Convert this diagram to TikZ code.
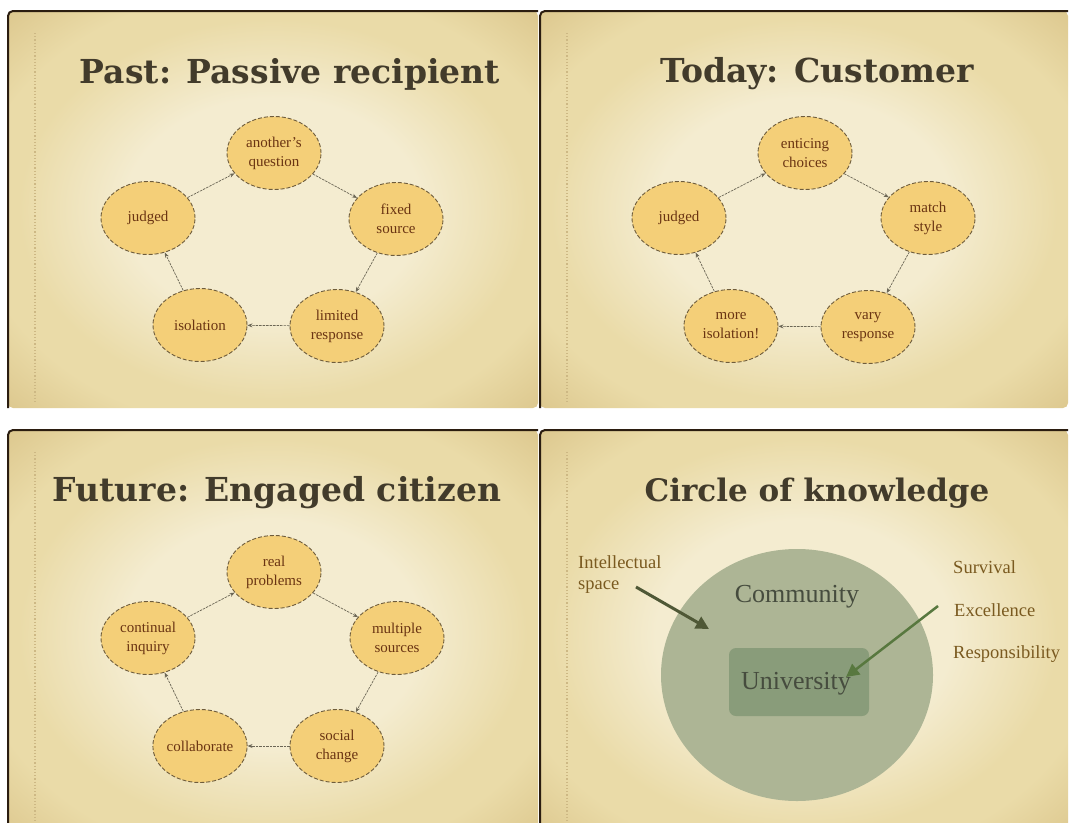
\documentclass[tikz,border=0pt]{standalone}
\usepackage{fontspec}
\setmainfont{Liberation Serif}
\newfontfamily\titlefont{DejaVu Serif}
\usetikzlibrary{arrows.meta,shapes.geometric}

% palette
\definecolor{paper}{HTML}{F4ECD0}
\definecolor{paperedge}{HTML}{EADBA8}
\definecolor{papercorner}{HTML}{DAC489}
\definecolor{edgedark}{HTML}{2B1D10}
\definecolor{margindots}{HTML}{CDB884}
\definecolor{titleink}{HTML}{423B2B}
\definecolor{stagefill}{HTML}{F4CF78}
\definecolor{ringink}{HTML}{6E5C3C}
\definecolor{stageink}{HTML}{6A3412}
\definecolor{flowink}{HTML}{6B6655}
\definecolor{community}{HTML}{ADB595}
\definecolor{campus}{HTML}{899C7A}
\definecolor{greyink}{HTML}{464C3E}
\definecolor{labelink}{HTML}{7A5A20}
\definecolor{leftarrow}{HTML}{4F5836}
\definecolor{rightarrow}{HTML}{58783F}

% parchment vignette for each slide
\pgfdeclareradialshading{parchment}{\pgfpoint{0bp}{0bp}}{%
  color(0bp)=(paper); color(14bp)=(paper); color(24bp)=(paperedge);
  color(28bp)=(paperedge); color(37bp)=(papercorner); color(50bp)=(papercorner)}

\begin{document}
\begin{tikzpicture}[x=1pt,y=-1pt,
  slide/.style={shading=parchment, rounded corners=5pt},
  slideedge/.style={draw=edgedark, line width=2pt, rounded corners=5pt},
  margin/.style={draw=margindots, line width=1.2pt, dotted},
  title/.style={text=titleink, anchor=base, inner sep=0pt,
    font=\titlefont\bfseries\fontsize{33}{38}\selectfont},
  stage/.style={ellipse, draw=ringink, dash pattern=on 4pt off 2pt,
    line width=0.9pt, fill=stagefill, minimum width=94pt, minimum height=73pt,
    inner sep=0pt, align=center, text=stageink,
    font=\fontsize{15}{19}\selectfont},
  flow/.style={draw=flowink, line width=0.7pt, dash pattern=on 2.5pt off 1pt,
    -{Stealth[length=5pt,width=4pt]}},
  ringtext/.style={text=greyink, inner sep=0pt, font=\fontsize{26}{30}\selectfont},
  sidelabel/.style={text=labelink, anchor=base west, inner sep=0pt,
    font=\fontsize{18.5}{22}\selectfont},
  bigarrow/.style={line width=3pt, -{Triangle[length=13pt,width=13pt]}}
]
\useasboundingbox (0,0) rectangle (1070,822);
\fill[white] (0,0) rectangle (1070,822);
\clip (0,0) rectangle (1070,822);

% ---- slide backgrounds ----
\foreach \xa/\ya/\xb/\yb in {8/11/538/408, 540/11/1068/408, 8/430/538/840, 540/430/1068/840}{
  \shade[slide] (\xa,\ya) rectangle (\xb,\yb);
  \draw[slideedge] (\xa,\yb) -- (\xa,\ya) -- (\xb,\ya);
  \draw[margin] (\xa+27,\ya+22) -- (\xa+27,\yb-6);
}

% ---- slide 1: past ----
\node[title] (t1) at (290,83) {Past: Passive recipient};
\node[stage] (a1) at (274,153) {another's\\question};
\node[stage] (a2) at (396,219) {fixed\\source};
\node[stage] (a3) at (337,326) {limited\\response};
\node[stage] (a4) at (200,325) {isolation};
\node[stage] (a5) at (148,218) {judged};
\draw[flow] (a5) -- (a1);
\draw[flow] (a1) -- (a2);
\draw[flow] (a2) -- (a3);
\draw[flow] (a3) -- (a4);
\draw[flow] (a4) -- (a5);

% ---- slide 2: today ----
\node[title] (t2) at (817,82) {Today: Customer};
\node[stage] (b1) at (805,153) {enticing\\choices};
\node[stage] (b2) at (928,218) {match\\style};
\node[stage] (b3) at (868,327) {vary\\response};
\node[stage] (b4) at (731,326) {more\\isolation!};
\node[stage] (b5) at (679,218) {judged};
\draw[flow] (b5) -- (b1);
\draw[flow] (b1) -- (b2);
\draw[flow] (b2) -- (b3);
\draw[flow] (b3) -- (b4);
\draw[flow] (b4) -- (b5);

% ---- slide 3: future ----
\node[title] (t3) at (277,501) {Future: Engaged citizen};
\node[stage] (c1) at (274,572) {real\\problems};
\node[stage] (c2) at (397,638) {multiple\\sources};
\node[stage] (c3) at (337,746) {social\\change};
\node[stage] (c4) at (200,746) {collaborate};
\node[stage] (c5) at (148,638) {continual\\inquiry};
\draw[flow] (c5) -- (c1);
\draw[flow] (c1) -- (c2);
\draw[flow] (c2) -- (c3);
\draw[flow] (c3) -- (c4);
\draw[flow] (c4) -- (c5);

% ---- slide 4: circle of knowledge ----
\node[title, font=\titlefont\bfseries\fontsize{31}{36}\selectfont] (t4) at (817,501) {Circle of knowledge};
\node[ellipse, fill=community, minimum width=272pt, minimum height=252pt,
      inner sep=0pt] (comm) at (797,675) {};
\node[ringtext] (commtext) at (797,597) {Community};
\node[fill=campus, rounded corners=7pt, minimum width=140pt, minimum height=68pt,
      inner sep=0pt] (univ) at (799,682) {};
\node[ringtext] (univtext) at (796,684) {University};

\node[sidelabel] (intel) at (578,568) {Intellectual};
\node[sidelabel] (space) at (578,589) {space};
\node[sidelabel] (surv) at (953,573) {Survival};
\node[sidelabel] (excel) at (954,616) {Excellence};
\node[sidelabel] (resp) at (953,658) {Responsibility};

\coordinate (spacetail) at (636,587);
\coordinate (spacetip) at (709,629);
\coordinate (exceltail) at (938,606);
\coordinate (univtip) at (846,677);
\draw[bigarrow, leftarrow] (spacetail) -- (spacetip);
\draw[bigarrow, rightarrow, line width=2.5pt] (exceltail) -- (univtip);
\end{tikzpicture}
\end{document}
